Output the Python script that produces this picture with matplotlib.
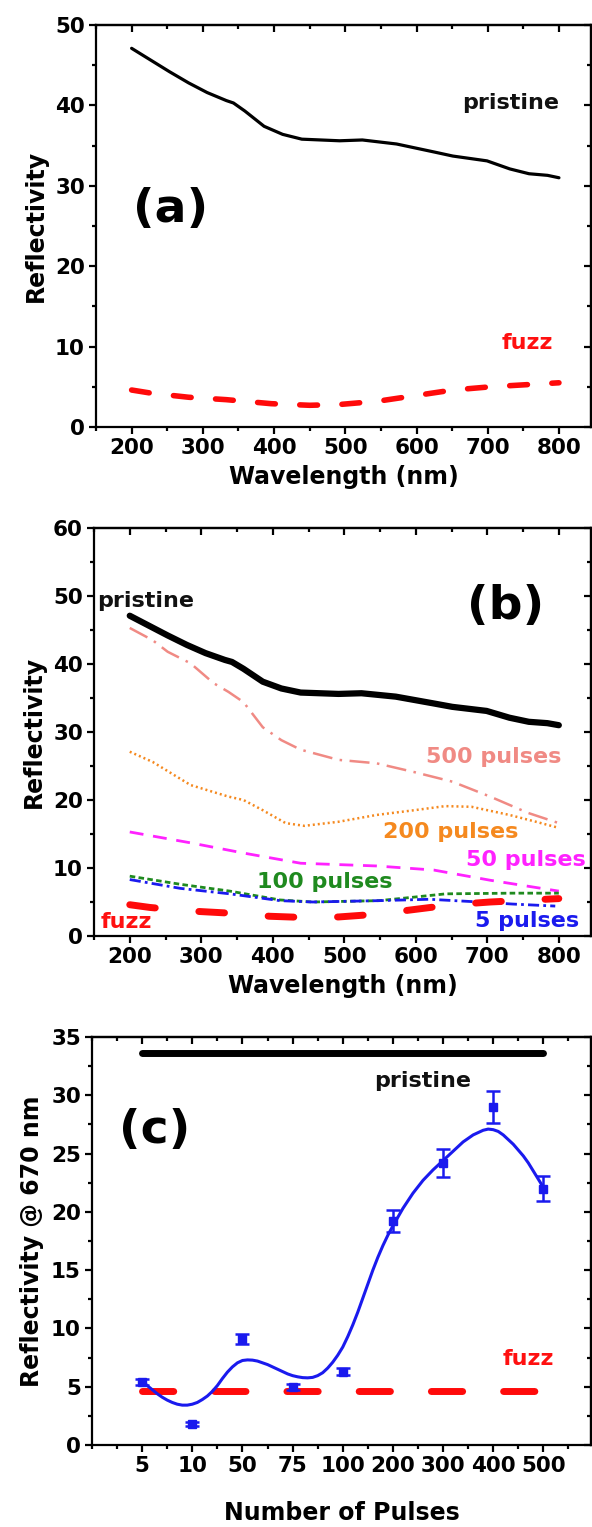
import matplotlib
matplotlib.use('Agg')
import matplotlib.pyplot as plt
from matplotlib.ticker import MultipleLocator

plt.rcParams['font.family'] = ['DejaVu Sans']
plt.rcParams['font.weight'] = 'bold'

# ---------------- data ----------------
wl_pristine = [200, 253, 280, 306, 333, 343, 359, 386, 412, 439, 492, 524, 572, 625, 651, 699, 731, 758, 784, 800]
r_pristine = [47.1, 44.2, 42.8, 41.6, 40.6, 40.3, 39.3, 37.4, 36.4, 35.8, 35.6, 35.7, 35.2, 34.2, 33.7, 33.1, 32.1, 31.5, 31.3, 31.0]

wl_fuzz = [200, 228, 280, 333, 396, 450, 492, 545, 598, 651, 704, 800]
r_fuzz = [4.6, 4.2, 3.7, 3.4, 2.9, 2.7, 2.8, 3.2, 3.9, 4.6, 5.0, 5.5]

wl_500 = [200, 232, 253, 285, 317, 338, 359, 386, 412, 439, 492, 545, 598, 651, 704, 757, 800]
r_500 = [45.3, 43.5, 41.8, 40.1, 37.2, 35.9, 34.4, 30.7, 28.8, 27.4, 25.9, 25.4, 24.1, 22.7, 20.5, 18.1, 16.6]

wl_200 = [200, 232, 285, 338, 359, 386, 418, 444, 492, 545, 598, 641, 678, 731, 768, 800]
r_200 = [27.1, 25.6, 22.2, 20.5, 20.0, 18.5, 16.6, 16.2, 16.8, 17.8, 18.5, 19.1, 19.0, 17.8, 16.8, 15.9]

wl_50 = [200, 285, 359, 439, 545, 625, 704, 800]
r_50 = [15.3, 13.7, 12.2, 10.7, 10.3, 9.7, 8.2, 6.6]

wl_100 = [200, 271, 340, 410, 456, 549, 596, 642, 735, 800]
r_100 = [8.8, 7.6, 6.6, 5.3, 5.0, 5.2, 5.7, 6.2, 6.3, 6.3]

wl_5 = [200, 271, 340, 410, 456, 549, 619, 689, 735, 795]
r_5 = [8.3, 7.0, 6.2, 5.2, 5.0, 5.2, 5.4, 5.0, 4.7, 4.4]

pulse_labels = ['5', '10', '50', '75', '100', '200', '300', '400', '500']
refl_670 = [5.4, 1.8, 9.1, 5.0, 6.3, 19.2, 24.2, 29.0, 22.0]
refl_670_err = [0.25, 0.15, 0.4, 0.25, 0.3, 0.95, 1.2, 1.4, 1.1]

# smooth fitted curve (x in category-index units)
fit_pos = [1.0, 1.1, 1.2, 1.3, 1.4, 1.5, 1.6, 1.7, 1.8, 1.9, 2.0, 2.1, 2.2, 2.3, 2.4, 2.5,
           2.6, 2.7, 2.8, 2.9, 3.0, 3.1, 3.2, 3.3, 3.4, 3.5, 3.6, 3.7, 3.8, 3.9, 4.0, 4.1,
           4.2, 4.3, 4.4, 4.5, 4.6, 4.7, 4.8, 4.9, 5.0, 5.1, 5.2, 5.3, 5.4, 5.5, 5.6, 5.7,
           5.8, 5.9, 6.0, 6.2, 6.4, 6.6, 6.8, 7.0, 7.2, 7.4, 7.6, 7.8, 7.9, 8.0, 8.1, 8.2,
           8.3, 8.4, 8.5, 8.6, 8.7, 8.8, 8.9, 9.0]
fit_val = [5.5, 5.1, 4.75, 4.4, 4.1, 3.85, 3.65, 3.5, 3.42, 3.42, 3.5, 3.65, 3.9, 4.2, 4.6, 5.1,
           5.7, 6.25, 6.7, 7.05, 7.25, 7.3, 7.28, 7.2, 7.05, 6.9, 6.7, 6.5, 6.3, 6.1, 5.95, 5.85,
           5.78, 5.76, 5.8, 5.95, 6.2, 6.6, 7.1, 7.7, 8.4, 9.3, 10.3, 11.4, 12.6, 13.8, 15.0, 16.1,
           17.1, 18.0, 18.8, 20.3, 21.6, 22.7, 23.6, 24.4, 25.2, 26.0, 26.6, 27.0, 27.1, 27.05, 26.9, 26.6,
           26.2, 25.8, 25.3, 24.8, 24.2, 23.5, 22.8, 22.1]

pristine_670 = 33.6
fuzz_670 = 4.6

# ---------------- style ----------------
TICK_FS = 15.5
LABEL_FS = 17
ANN_FS = 16
PANEL_FS = 34
SPINE_W = 1.6

W, H = 592, 1527
fig = plt.figure(figsize=(W / 100, H / 100), dpi=100)


def make_ax(left_px, right_px, top_px, bottom_px):
    return fig.add_axes([left_px / W, 1 - bottom_px / H,
                         (right_px - left_px) / W, (bottom_px - top_px) / H])


def style_ax(ax, xmaj, xmin, ymaj, ymin, xticks_fixed=None):
    for s in ax.spines.values():
        s.set_linewidth(SPINE_W)
    if xticks_fixed is None:
        ax.xaxis.set_major_locator(MultipleLocator(xmaj))
    ax.xaxis.set_minor_locator(MultipleLocator(xmin))
    ax.yaxis.set_major_locator(MultipleLocator(ymaj))
    ax.yaxis.set_minor_locator(MultipleLocator(ymin))
    ax.tick_params(which='major', direction='out', length=5, width=1.6,
                   labelsize=TICK_FS, pad=3)
    ax.tick_params(which='minor', direction='out', length=3, width=1.6)
    for lab in ax.get_xticklabels() + ax.get_yticklabels():
        lab.set_fontweight('bold')
    top = ax.secondary_xaxis('top')
    top.set_xticks(ax.get_xticks())
    top.xaxis.set_minor_locator(MultipleLocator(xmin))
    top.tick_params(which='major', direction='in', length=5, width=1.6, labeltop=False)
    top.tick_params(which='minor', direction='in', length=3, width=1.6)
    top.spines['top'].set_linewidth(SPINE_W)
    right = ax.secondary_yaxis('right')
    right.yaxis.set_major_locator(MultipleLocator(ymaj))
    right.yaxis.set_minor_locator(MultipleLocator(ymin))
    right.tick_params(which='major', direction='in', length=5, width=1.6, labelright=False)
    right.tick_params(which='minor', direction='in', length=3, width=1.6)
    right.spines['right'].set_linewidth(SPINE_W)


# ---------------- panel (a) ----------------
axa = make_ax(96, 591, 25, 427)
axa.set_xlim(150, 845)
axa.set_ylim(0, 50)
axa.plot(wl_pristine, r_pristine, color='black', lw=2.3, solid_capstyle='round')
axa.plot(wl_fuzz, r_fuzz, color='#ff0a0a', lw=4.0, dashes=(3.2, 4.4),
         dash_capstyle='round')
style_ax(axa, 100, 50, 10, 5)
axa.set_xlabel('Wavelength (nm)', fontsize=LABEL_FS, fontweight='bold', labelpad=5)
axa.set_ylabel('Reflectivity', fontsize=LABEL_FS, fontweight='bold', labelpad=5)
axa.text(800, 40.3, 'pristine', fontsize=ANN_FS, fontweight='bold', color='#111111',
         ha='right', va='center')
axa.text(792, 10.4, 'fuzz', fontsize=ANN_FS, fontweight='bold', color='#ff1010',
         ha='right', va='center')
axa.text(254, 27, '(a)', fontsize=PANEL_FS, fontweight='bold', ha='center', va='center')

# ---------------- panel (b) ----------------
axb = make_ax(94, 591, 528, 936)
axb.set_xlim(150, 845)
axb.set_ylim(0, 60)
axb.plot(wl_500, r_500, color='#f08a84', lw=1.8, dashes=(8, 3, 1, 3))
axb.plot(wl_200, r_200, color='#f5891f', lw=1.8, dashes=(0.8, 1.2))
axb.plot(wl_50, r_50, color='#ff22ff', lw=2.0, dashes=(5, 3.5))
axb.plot(wl_100, r_100, color='#1f8a1f', lw=2.0, dashes=(2.0, 1.2))
axb.plot(wl_5, r_5, color='#1a1aee', lw=2.0, dashes=(4, 1.5, 1, 1.5))
axb.plot(wl_fuzz, r_fuzz, color='#ff0a0a', lw=5.0, dashes=(3.7, 6.3),
         dash_capstyle='round')
axb.plot(wl_pristine, r_pristine, color='black', lw=4.5, solid_capstyle='round')
style_ax(axb, 100, 50, 10, 5)
axb.set_xlabel('Wavelength (nm)', fontsize=LABEL_FS, fontweight='bold', labelpad=5)
axb.set_ylabel('Reflectivity', fontsize=LABEL_FS, fontweight='bold', labelpad=5)
axb.text(155, 49.2, 'pristine', fontsize=ANN_FS, fontweight='bold', color='#111111',
         ha='left', va='center')
axb.text(725, 48.5, '(b)', fontsize=PANEL_FS, fontweight='bold', ha='center', va='center')
axb.text(803, 26.3, '500 pulses', fontsize=ANN_FS, fontweight='bold', color='#f08a84',
         ha='right', va='center')
axb.text(649, 15.3, '200 pulses', fontsize=ANN_FS, fontweight='bold', color='#f5891f',
         ha='center', va='center')
axb.text(754, 11.2, '50 pulses', fontsize=ANN_FS, fontweight='bold', color='#ff22ff',
         ha='center', va='center')
axb.text(473, 7.9, '100 pulses', fontsize=ANN_FS, fontweight='bold', color='#1f8a1f',
         ha='center', va='center')
axb.text(756, 2.2, '5 pulses', fontsize=ANN_FS, fontweight='bold', color='#1a1aee',
         ha='center', va='center')
axb.text(195, 2.1, 'fuzz', fontsize=ANN_FS, fontweight='bold', color='#ff1010',
         ha='center', va='center')

# ---------------- panel (c) ----------------
axc = make_ax(92, 591, 1037, 1445)
pos = list(range(1, len(pulse_labels) + 1))
axc.set_xlim(0, 9.95)
axc.set_ylim(0, 35)
axc.plot([pos[0], pos[-1]], [pristine_670, pristine_670], color='black', lw=5,
         solid_capstyle='round')
axc.plot([pos[0], pos[-1]], [fuzz_670, fuzz_670], color='#ff0a0a', lw=5,
         dashes=(4.5, 5.9), dash_capstyle='round')
axc.plot(fit_pos, fit_val, color='#1a1aee', lw=2.2)
axc.errorbar(pos, refl_670, yerr=refl_670_err, fmt='s', color='#1a1aee', ms=5.5,
             capsize=5, capthick=1.8, elinewidth=1.8)
axc.set_xticks(pos)
axc.set_xticklabels(pulse_labels)
style_ax(axc, 1, 0.5, 5, 2.5, xticks_fixed=True)
axc.set_xlabel('Number of Pulses', fontsize=LABEL_FS, fontweight='bold', labelpad=18)
axc.set_ylabel('Reflectivity @ 670 nm', fontsize=LABEL_FS, fontweight='bold', labelpad=5)
axc.text(6.6, 31.2, 'pristine', fontsize=ANN_FS, fontweight='bold', color='#111111',
         ha='center', va='center')
axc.text(8.7, 7.4, 'fuzz', fontsize=ANN_FS, fontweight='bold', color='#ff1010',
         ha='center', va='center')
axc.text(1.25, 27, '(c)', fontsize=PANEL_FS, fontweight='bold', ha='center', va='center')

fig.savefig('out.png', dpi=100, facecolor='white')
